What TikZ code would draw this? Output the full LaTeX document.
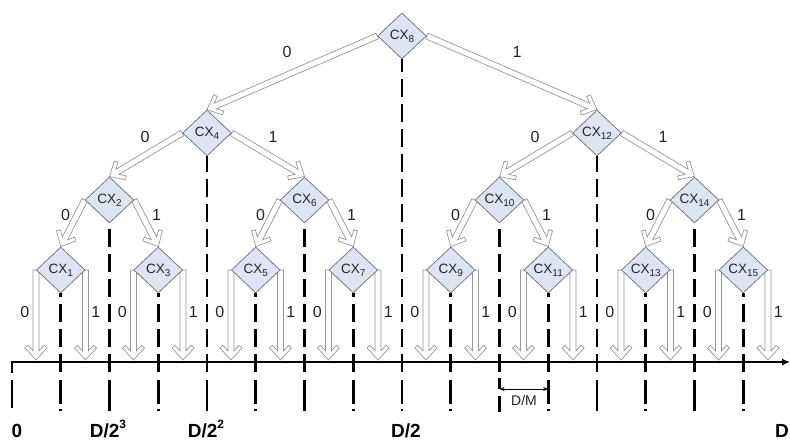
\documentclass[tikz,border=0pt]{standalone}
\usepackage{fontspec}
\setmainfont{Liberation Sans}
\usetikzlibrary{shapes.geometric,arrows.meta,calc}
\pgfdeclarelayer{background}
\pgfsetlayers{background,main}

\definecolor{nodefill}{RGB}{222,229,242}
\definecolor{nodeline}{RGB}{120,120,130}
\definecolor{arrline}{RGB}{150,150,150}
\definecolor{txt}{RGB}{35,35,35}

% subscript used in the node names
\newcommand\cxsub[1]{\raisebox{-3pt}{\fontsize{10}{10}\selectfont #1}}
\newcommand\cxname[1]{CX\cxsub{#1}}
% superscript of the bold axis labels
\newcommand\tsup[1]{\raisebox{9pt}{\fontsize{12}{12}\selectfont #1}}

% hollow double-line arrow with an open chevron head, from #1 to #2
\newcommand\hollowarrow[2]{%
  \path let \p1=($(#2)-(#1)$) in \pgfextra{%
    \pgfmathsetmacro\harrang{atan2(\y1,\x1)}%
    \pgfmathsetmacro\harrlen{veclen(\x1,\y1)}%
    \global\let\harrangG\harrang
    \global\let\harrlenG\harrlen};
  \draw[hollow, shift={(#1)}, rotate=\harrangG]
    (0,3) -- (\harrlenG-9.2,3) -- (\harrlenG-14.7,8.05) -- (\harrlenG-12,11)
    -- (\harrlenG,0) -- (\harrlenG-12,-11) -- (\harrlenG-14.7,-8.05)
    -- (\harrlenG-9.2,-3) -- (0,-3) -- cycle;
}

\begin{document}
\begin{tikzpicture}[x=1pt,y=-1pt,
  cx/.style={diamond, draw=nodeline, fill=nodefill, line width=0.8pt,
    minimum width=48.75pt, minimum height=46pt, inner sep=0pt, text=txt,
    font=\fontsize{13.5}{13.5}\selectfont},
  hollow/.style={draw=arrline, fill=white, line width=0.7pt, line join=miter},
  guide/.style={line width=2.6pt, dash pattern=on 18pt off 7pt},
  guidedot/.style={line width=2.6pt, dash pattern=on 24pt off 5pt on 2pt off 10pt},
  guidelong/.style={line width=2.6pt},
  axisline/.style={line width=2pt, -{Latex[length=8pt,width=7pt]}},
  bit/.style={text=txt, font=\fontsize{16}{16}\selectfont, inner sep=0pt},
  ticklabel/.style={font=\bfseries\fontsize{19}{19}\selectfont, inner sep=0pt, text=black},
]
\useasboundingbox (0,0) rectangle (790,442);

% reference heights
\coordinate (tipline) at (0,360);
\coordinate (gcut) at (0,372);
\coordinate (glow) at (0,380);
\coordinate (gbot) at (0,411);

% tree nodes
\node[cx] (cx8) at (402,36) {\cxname{8}};
\node[cx] (cx4) at (207,133) {\cxname{4}};
\node[cx] (cx12) at (597,133) {\cxname{12}};
\foreach \k/\xx in {2/109.5,6/304.5,10/499.5,14/694.5}
  \node[cx] (cx\k) at (\xx,200) {\cxname{\k}};
\foreach \k/\xx in {1/60.75,3/158.25,5/255.75,7/353.25,9/450.75,11/548.25,13/645.75,15/743.25}
  \node[cx] (cx\k) at (\xx,270) {\cxname{\k}};

% branch arrows
\begin{pgfonlayer}{background}
  \hollowarrow{cx8.west}{cx4.north}
  \hollowarrow{cx8.east}{cx12.north}
  \hollowarrow{cx4.west}{cx2.north}
  \hollowarrow{cx4.east}{cx6.north}
  \hollowarrow{cx12.west}{cx10.north}
  \hollowarrow{cx12.east}{cx14.north}
  \foreach \pa/\lc/\rc in {2/1/3,6/5/7,10/9/11,14/13/15}{
    \hollowarrow{cx\pa.west}{cx\lc.north}
    \hollowarrow{cx\pa.east}{cx\rc.north}
  }
  \foreach \k in {1,3,...,15}{
    \coordinate (cx\k-l) at (cx\k.west |- tipline);
    \coordinate (cx\k-r) at (cx\k.east |- tipline);
    \hollowarrow{cx\k.west}{cx\k-l}
    \hollowarrow{cx\k.east}{cx\k-r}
  }
\end{pgfonlayer}

% axis
\coordinate (odown) at (12,373);
\coordinate (o) at (12,362);
\coordinate (oend) at (790,362);
\draw[axisline] (odown) -- (o) -- (oend);

% dashed guides under the nodes
\foreach \k in {8,4,12,2,6,10,14,1,3,5,7,9,11,13,15}
  \draw[guide] (cx\k.south |- gcut) -- (cx\k.south);
\foreach \k in {8,1,3,5,7,9,11,13,15}
  \draw[guidedot] (cx\k.south |- glow) -- (cx\k.south |- gbot);
\foreach \k in {4,12,2,6,14}
  \draw[guidelong] (cx\k.south |- glow) -- (cx\k.south |- gbot);
\coordinate (z1) at (12,380);
\coordinate (z2) at (12,408);
\draw[guidelong] (z1) -- (z2);

% cell width marker
\coordinate (m1) at (499.5,378);
\coordinate (m2) at (499.5,389);
\coordinate (m3) at (548.25,389);
\coordinate (m4) at (499.5,396);
\coordinate (m5) at (499.5,412);
\draw[line width=2.6pt] (m1) -- (m2);
\draw[line width=0.9pt, {Stealth[length=5pt,width=4pt]}-{Stealth[length=5pt,width=4pt]}] (m2) -- (m3);
\draw[guidelong] (m4) -- (m5);
\node[text=txt, font=\fontsize{14}{14}\selectfont, inner sep=0pt] (dm) at (524,400) {D/M};

% branch labels
\node[bit] (b8l) at (287,52) {0};
\node[bit] (b8r) at (517,52) {1};
\node[bit] (b4l) at (145,137) {0};
\node[bit] (b4r) at (273,137) {1};
\node[bit] (b12l) at (535,137) {0};
\node[bit] (b12r) at (663,137) {1};
\foreach \k in {2,6,10,14}{
  \node[bit] (b\k l) at ($(cx\k)+(-44,15)$) {0};
  \node[bit] (b\k r) at ($(cx\k)+(47,15)$) {1};
}
\foreach \k in {1,3,...,15}{
  \node[bit] (b\k l) at ($(cx\k)+(-36,42)$) {0};
  \node[bit] (b\k r) at ($(cx\k)+(35,42)$) {1};
}

% axis labels
\node[ticklabel, anchor=base] (t0) at (17,437) {0};
\node[ticklabel, anchor=base] (t3) at (108,437) {D/2\tsup{3}};
\node[ticklabel, anchor=base] (t2) at (206,437) {D/2\tsup{2}};
\node[ticklabel, anchor=base] (t1) at (406,437) {D/2};
\node[ticklabel, anchor=base east] (tD) at (789,437) {D};
\end{tikzpicture}
\end{document}
